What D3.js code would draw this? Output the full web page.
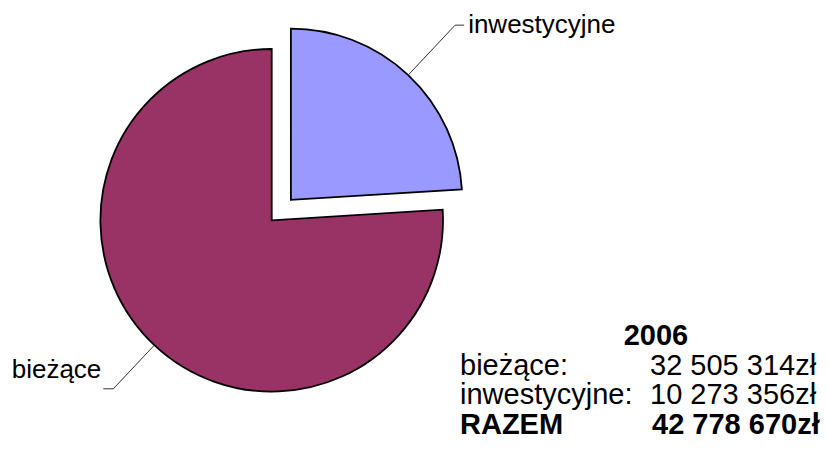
<!DOCTYPE html>
<html>
<head>
<meta charset="utf-8">
<script src="https://cdn.jsdelivr.net/npm/d3@7"></script>
<style>
  body { margin: 0; background: #fff; }
  text { font-family: Arial, "Liberation Sans", sans-serif; fill: #000; }
</style>
</head>
<body>
<script>
// Data
const categories = ['inwestycyjne', 'bieżące'];
const values = [10273356, 32505314];
const colors = ['#9999FF', '#993366'];
const year = '2006';
const totalLabel = 'RAZEM';

const width = 828;
const height = 449;

const cx = 271.7;
const cy = 220.3;
const radius = 171.3;
const explode = 28;

const svg = d3.select('body')
  .append('svg')
  .attr('width', width)
  .attr('height', height);

const pie = d3.pie().sort(null).value(function(d) { return d.value; });
const arc = d3.arc().innerRadius(0).outerRadius(radius);

const data = categories.map(function(c, i) { return { name: c, value: values[i], color: colors[i] }; });
const arcs = pie(data);

function midAngle(d) { return (d.startAngle + d.endAngle) / 2; }
function offset(d, i) {
  // only the first slice is pulled out
  const k = i === 0 ? explode : 0;
  const a = midAngle(d);
  return [k * Math.sin(a), -k * Math.cos(a)];
}

const g = svg.append('g')
  .attr('transform', 'translate(' + cx + ',' + cy + ')');

const slices = g.selectAll('g.slice')
  .data(arcs)
  .enter()
  .append('g')
  .attr('class', 'slice')
  .attr('transform', function(d, i) {
    const o = offset(d, i);
    return 'translate(' + o[0] + ',' + o[1] + ')';
  });

slices.append('path')
  .attr('d', arc)
  .attr('fill', function(d) { return d.data.color; })
  .attr('stroke', '#000')
  .attr('stroke-width', 1.8)
  .attr('stroke-linejoin', 'miter');

// leader lines + labels
const labelPos = [
  { dx: 9, tx: 13, ty: 8, anchor: 'start', r2: 1.4 },
  { dx: -10, tx: -12, ty: -11, anchor: 'end', r2: 1.35 }
];

slices.each(function(d, i) {
  const a = midAngle(d);
  const p = labelPos[i];
  const x1 = radius * Math.sin(a), y1 = -radius * Math.cos(a);
  const x2 = radius * p.r2 * Math.sin(a), y2 = -radius * p.r2 * Math.cos(a);
  const sel = d3.select(this);
  sel.append('polyline')
    .attr('points', [[x1, y1], [x2, y2], [x2 + p.dx, y2]].map(function(q) { return q.join(','); }).join(' '))
    .attr('fill', 'none')
    .attr('stroke', '#333')
    .attr('stroke-width', 1);
  sel.append('text')
    .attr('x', x2 + p.tx)
    .attr('y', y2 + p.ty)
    .attr('text-anchor', p.anchor)
    .style('font-size', '26px')
    .text(d.data.name);
});

// summary block
const fmt = d3.formatLocale({ decimal: ',', thousands: ' ', grouping: [3], currency: ['', 'zł'] }).format('$,');
const total = d3.sum(values);

const rows = [
  { label: categories[1] + ':', value: fmt(values[1]), bold: false },
  { label: categories[0] + ':', value: fmt(values[0]), bold: false },
  { label: totalLabel, value: fmt(total), bold: true }
];

const box = svg.append('g').attr('transform', 'translate(460,345)');

box.append('text')
  .attr('x', 196)
  .attr('y', 0)
  .attr('text-anchor', 'middle')
  .style('font-size', '29px')
  .style('font-weight', 'bold')
  .text(year);

const lineH = 29.5;
rows.forEach(function(r, i) {
  box.append('text')
    .attr('x', 0)
    .attr('y', (i + 1) * lineH)
    .style('font-size', '29px')
    .style('font-weight', r.bold ? 'bold' : 'normal')
    .text(r.label);
  box.append('text')
    .attr('x', r.bold ? 192 : 190)
    .attr('y', (i + 1) * lineH)
    .style('font-size', '29px')
    .style('font-weight', r.bold ? 'bold' : 'normal')
    .text(r.value);
});
</script>
</body>
</html>
